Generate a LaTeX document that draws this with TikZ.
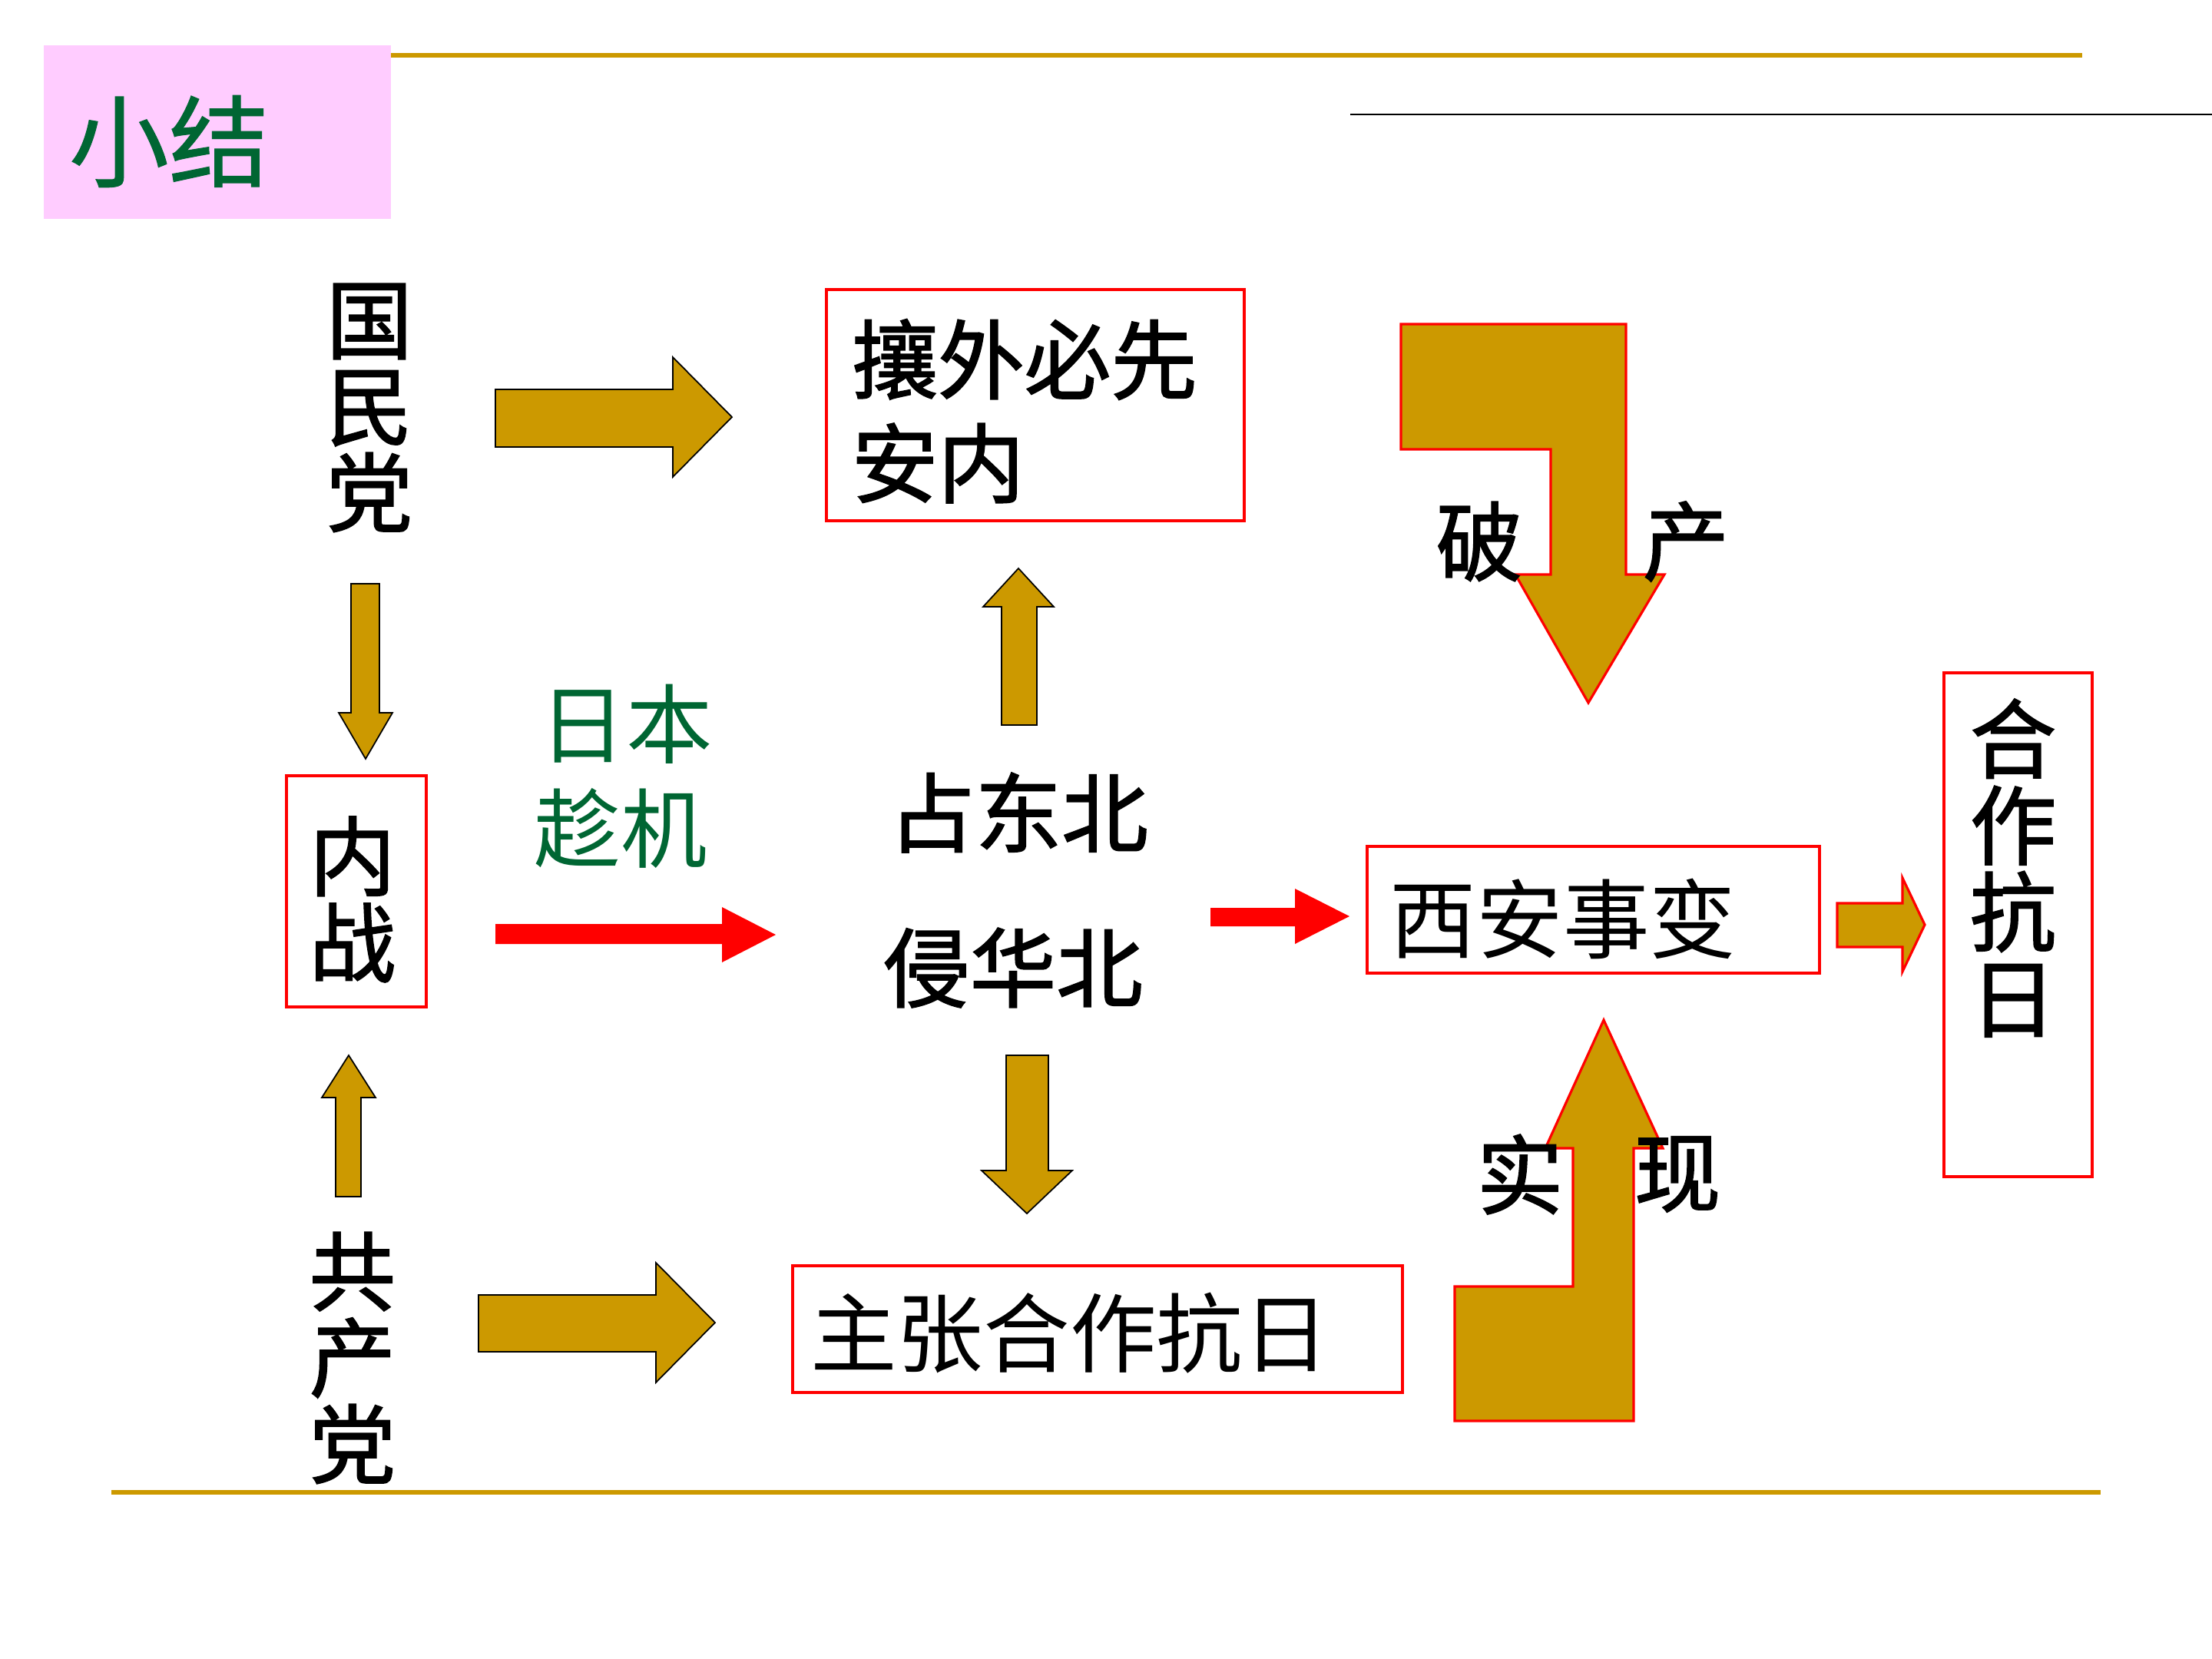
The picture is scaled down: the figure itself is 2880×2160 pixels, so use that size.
\documentclass[tikz,border=0pt]{standalone}
\usepackage{fontspec}
\newfontfamily\cjk{Noto Sans CJK SC}
\newfontfamily\cjkb{Noto Sans CJK SC}[FakeBold=1.6]
\newfontfamily\cjkm{Noto Sans CJK SC}[FakeBold=0.8]
\definecolor{gold}{HTML}{CC9900}
\definecolor{pinkbg}{HTML}{FFCCFF}
\definecolor{dgreen}{HTML}{006633}
\definecolor{rred}{HTML}{FF0000}
\tikzset{
  txt/.style={inner sep=0pt, font=\cjk\fontsize{32}{32}\selectfont, align=center},
  btxt/.style={txt, font=\cjkb\fontsize{32}{32}\selectfont},
  redbox/.style={draw=rred, line width=0.9pt},
  goldarrow/.style={fill=gold, draw=black, line width=0.5pt},
  goldred/.style={fill=gold, draw=rred, line width=0.9pt},
  redarrow/.style={fill=rred},
}
\begin{document}
\begin{tikzpicture}[x=0.01cm,y=-0.01cm]
\useasboundingbox (0,0) rectangle (2880,2160);
% title
\fill[pinkbg] (57,59) rectangle (509,285);
\node[txt, font=\cjkm\fontsize{37}{37}\selectfont, text=dgreen] (title) at (220,184) {小结};
% lines
\draw[gold, line width=1.6pt] (509,72) -- (2711,72);
\draw[black, line width=0.6pt] (1758,149) -- (2880,149);
\draw[gold, line width=1.6pt] (145,1943) -- (2735,1943);
% boxes
\draw[redbox] (1076,377) rectangle (1620,678);
\draw[redbox] (373,1010) rectangle (555,1311);
\draw[redbox] (1032,1648) rectangle (1826,1813);
\draw[redbox] (1780,1102) rectangle (2369,1267);
\draw[redbox] (2531,876) rectangle (2724,1532);
% gold block arrows
\draw[goldarrow] (645,507) -- (876,507) -- (876,465) -- (953,543) -- (876,621) -- (876,582) -- (645,582) -- cycle;
\draw[goldarrow] (623,1686) -- (854,1686) -- (854,1644) -- (931,1722) -- (854,1800) -- (854,1760) -- (623,1760) -- cycle;
\draw[goldarrow] (457,760) -- (494,760) -- (494,928) -- (511,928) -- (476,988) -- (441,928) -- (457,928) -- cycle;
\draw[goldarrow] (437,1558) -- (470,1558) -- (470,1429) -- (489,1429) -- (454,1374) -- (419,1429) -- (437,1429) -- cycle;
\draw[goldarrow] (1304,944) -- (1350,944) -- (1350,790) -- (1372,790) -- (1326,740) -- (1280,790) -- (1304,790) -- cycle;
\draw[goldarrow] (1310,1374) -- (1365,1374) -- (1365,1524) -- (1396,1524) -- (1337,1580) -- (1278,1524) -- (1310,1524) -- cycle;
% red arrows
\fill[redarrow] (645,1203) -- (940,1203) -- (940,1181) -- (1010,1217) -- (940,1253) -- (940,1229) -- (645,1229) -- cycle;
\fill[redarrow] (1576,1182) -- (1686,1182) -- (1686,1157) -- (1757,1193) -- (1686,1229) -- (1686,1206) -- (1576,1206) -- cycle;
% small gold arrow with red outline
\draw[goldred] (2392,1176) -- (2477,1176) -- (2477,1143) -- (2506,1204) -- (2477,1265) -- (2477,1233) -- (2392,1233) -- cycle;
% bent arrows
\draw[goldred] (1824,422) -- (2117,422) -- (2117,748) -- (2167,748) -- (2068,915) -- (1973,748) -- (2019,748) -- (2019,585) -- (1824,585) -- cycle;
\draw[goldred] (1894,1850) -- (1894,1675) -- (2048,1675) -- (2048,1495) -- (2012,1495) -- (2088,1328) -- (2165,1495) -- (2127,1495) -- (2127,1850) -- cycle;
% texts
\node[btxt] (gmd) at (481,531) {国\\民\\党};
\node[btxt] (nz) at (459,1171) {内\\战};
\node[btxt] (gcd) at (459,1768) {共\\产\\党};
\node[btxt, anchor=west] (rw1) at (1108,468) {攘外必先};
\node[btxt, anchor=west] (rw2) at (1108,603) {安内};
\node[txt] (zz) at (1393,1736) {主张合作抗日};
\node[txt] (xa) at (2035,1196) {西安事变};
\node[btxt] (hz) at (2621,1130) {合\\作\\抗\\日};
\node[txt, text=dgreen] (rb) at (815,943) {日本};
\node[txt, text=dgreen] (cj) at (808,1078) {趁机};
\node[btxt] (zdb) at (1326,1058) {占东北};
\node[btxt] (qhb) at (1319,1260) {侵华北};
\node[btxt] (po) at (1926,705) {破};
\node[btxt] (chan) at (2195,705) {产};
\node[btxt] (shi) at (1979,1529) {实};
\node[btxt] (xian) at (2184,1529) {现};
\end{tikzpicture}
\end{document}
